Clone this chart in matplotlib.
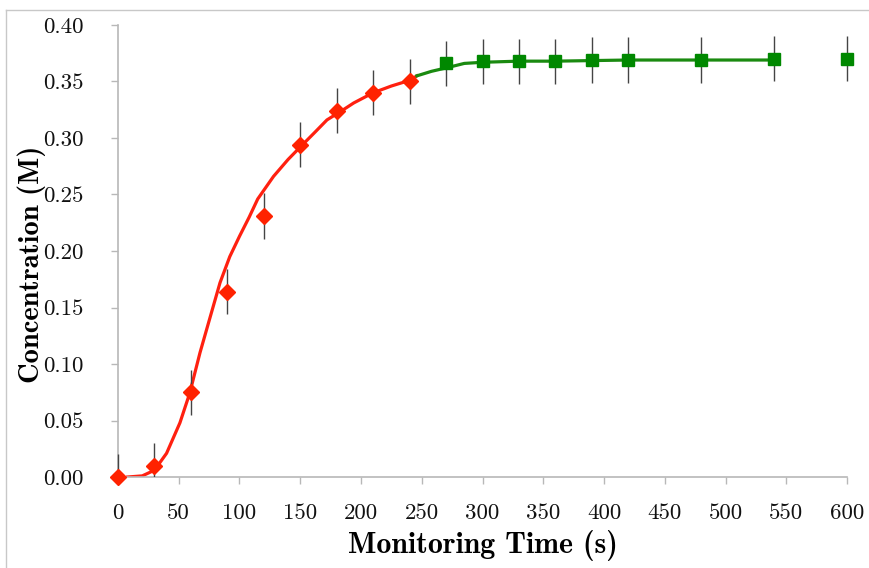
import matplotlib
matplotlib.use('Agg')
import matplotlib.pyplot as plt
from matplotlib.lines import Line2D
from matplotlib.patches import Rectangle

# measured points (s, M)
red_t = [0, 30, 60, 90, 120, 150, 180, 210, 240]
red_c = [0.000, 0.010, 0.075, 0.164, 0.231, 0.294, 0.324, 0.340, 0.350]
green_t = [270, 300, 330, 360, 390, 420, 480, 540, 600]
green_c = [0.366, 0.368, 0.368, 0.368, 0.369, 0.369, 0.369, 0.370, 0.370]
err = 0.02

# fitted curve
fit_red_t = [8, 20, 30, 40, 51, 59, 67.5, 76, 84, 92, 100, 108, 115, 128, 140, 150,
             162, 172, 184, 194, 210, 225, 240, 246]
fit_red_c = [0.000, 0.001, 0.006, 0.021, 0.048, 0.074, 0.110, 0.142, 0.172, 0.195,
             0.213, 0.230, 0.246, 0.266, 0.281, 0.292, 0.305, 0.316, 0.324, 0.331,
             0.340, 0.346, 0.351, 0.355]
fit_green_t = [246, 258, 270, 285, 300, 330, 360, 420, 480, 540]
fit_green_c = [0.355, 0.359, 0.362, 0.366, 0.367, 0.368, 0.368, 0.369, 0.369, 0.369]

xticks = [0, 50, 100, 150, 200, 250, 300, 350, 400, 450, 500, 550, 600]
yticks = [0.00, 0.05, 0.10, 0.15, 0.20, 0.25, 0.30, 0.35, 0.40]

fig = plt.figure(figsize=(8.7, 5.68), dpi=100)
ax = fig.add_axes([0.1356, 0.1602, 0.838, 0.7958])

ax.plot(fit_red_t, fit_red_c, color='#ff2010', lw=2.3, zorder=2)
ax.plot(fit_green_t, fit_green_c, color='#1a8a10', lw=2.3, zorder=2)

# error bars are cut at the x axis only, markers are not cut
eb = ax.errorbar(red_t + green_t, red_c + green_c, yerr=err, fmt='none',
                 ecolor='#444444', elinewidth=1, capsize=0, zorder=3)
clip = Rectangle((-0.05, 0), 1.1, 1.1, transform=ax.transAxes)
for coll in eb.lines[2]:
    coll.set_clip_path(clip)
ax.plot(red_t, red_c, 'D', color='#ff2200', ms=8.5, zorder=4, clip_on=False)
ax.plot(green_t, green_c, 's', color='#008800', ms=9, zorder=4, clip_on=False)

ax.set_xlim(0, 600)
ax.set_ylim(0, 0.40)
ax.set_xticks(xticks)
ax.set_xticklabels([str(v) for v in xticks], family='cmr10', fontsize=16.5)
ax.set_yticks(yticks)
ax.set_yticklabels(['%.2f' % v for v in yticks], family='cmr10', fontsize=16.5)

for s in ['top', 'right']:
    ax.spines[s].set_visible(False)
for s in ['left', 'bottom']:
    ax.spines[s].set_color('#b8b8b8')
    ax.spines[s].set_linewidth(1.2)
ax.tick_params(colors='#b8b8b8', labelcolor='#111111', length=5, width=1)
ax.tick_params(axis='y', pad=20)
ax.tick_params(axis='x', pad=14)

ax.set_xlabel('Monitoring Time (s)', family='cmb10', fontsize=21.5, labelpad=5)
ax.set_ylabel('Concentration (M)', family='cmb10', fontsize=20.5)
ax.yaxis.set_label_coords(-0.099, 0.47)

# thin frame round the picture (top and left edges visible)
fig.add_artist(Line2D([0.0069, 1.0], [0.9824, 0.9824], color='#c8c8c8', lw=1))
fig.add_artist(Line2D([0.0069, 0.0069], [0.0, 0.9824], color='#c8c8c8', lw=1))

fig.savefig('out.png', dpi=100)
